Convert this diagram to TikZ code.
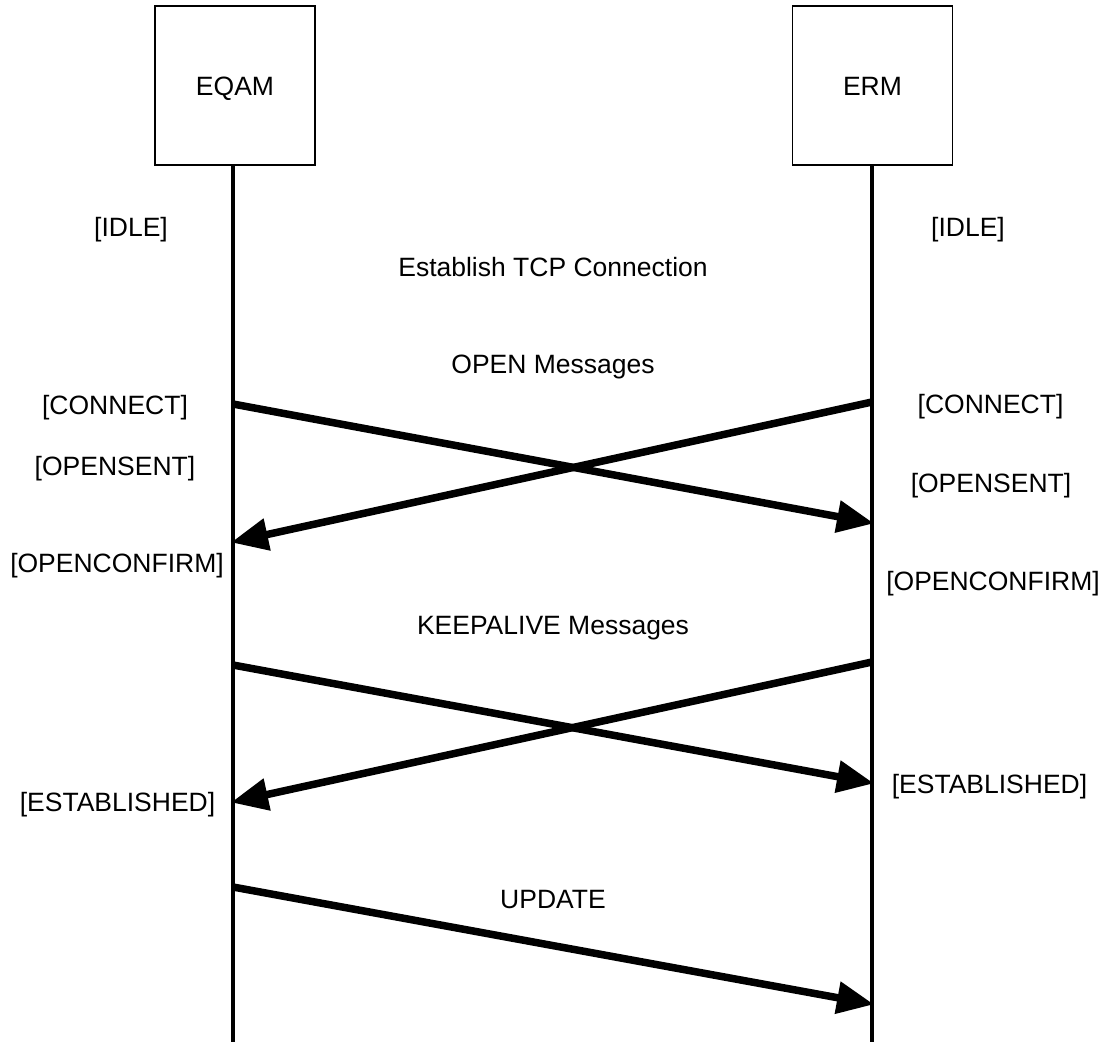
\documentclass[tikz,border=0pt]{standalone}
\usepackage{fontspec}
\setmainfont{Liberation Sans}
\usetikzlibrary{arrows.meta}
\begin{document}
\begin{tikzpicture}[x=1pt,y=-1pt,
  txt/.style={font=\fontsize{26.5}{30}\selectfont, text height=19pt, text depth=0pt},
  lbl/.style={txt, inner sep=0pt, anchor=center},
  entity/.style={draw, line width=1.4pt, minimum width=160pt, minimum height=159pt, inner sep=0pt, txt},
  lifeline/.style={line width=4pt},
  msg/.style={line width=7.5pt, -{Triangle[length=37pt,width=31pt]}, shorten >=-2pt}]
\useasboundingbox (0,0) rectangle (1107,1042);
\node[entity] (eqam) at (235,85.5) {EQAM};
\node[entity] (erm) at (872.5,85.5) {ERM};
\coordinate (eqamEnd) at (233,1042);
\coordinate (ermEnd) at (872,1042);
\draw[lifeline] (eqam.south -| eqamEnd) -- (eqamEnd);
\draw[lifeline] (erm.south -| ermEnd) -- (ermEnd);
% message points
\coordinate (a1) at (233,404);
\coordinate (b1) at (872,523);
\coordinate (b2) at (872,402);
\coordinate (a2) at (233,542);
\coordinate (a3) at (233,665);
\coordinate (b3) at (872,783);
\coordinate (b4) at (872,662);
\coordinate (a4) at (233,802);
\coordinate (a5) at (233,887);
\coordinate (b5) at (872,1004);
\draw[msg] (a1) -- (b1);
\draw[msg] (b2) -- (a2);
\draw[msg] (a3) -- (b3);
\draw[msg] (b4) -- (a4);
\draw[msg] (a5) -- (b5);
% labels
\node[lbl] (idleL) at (131,227) {[IDLE]};
\node[lbl] (idleR) at (968,227) {[IDLE]};
\node[lbl] (tcp) at (553,267) {Establish TCP Connection};
\node[lbl] (open) at (553,364) {OPEN Messages};
\node[lbl] (connL) at (115,405) {[CONNECT]};
\node[lbl] (connR) at (990.5,404) {[CONNECT]};
\node[lbl] (osL) at (115,466) {[OPENSENT]};
\node[lbl] (osR) at (991,483) {[OPENSENT]};
\node[lbl] (ocL) at (117,563) {[OPENCONFIRM]};
\node[lbl] (ocR) at (993,581) {[OPENCONFIRM]};
\node[lbl] (keep) at (553,625) {KEEPALIVE Messages};
\node[lbl] (estL) at (117.5,802) {[ESTABLISHED]};
\node[lbl] (estR) at (989.5,784) {[ESTABLISHED]};
\node[lbl] (upd) at (553,899) {UPDATE};
\end{tikzpicture}
\end{document}
